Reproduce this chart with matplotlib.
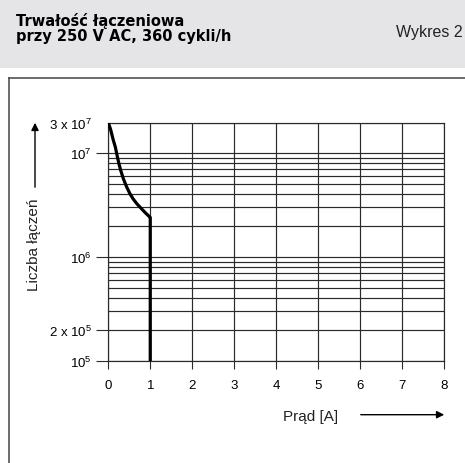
import numpy as np
import matplotlib
matplotlib.use('Agg')
import matplotlib.pyplot as plt
from matplotlib.patches import Rectangle, FancyArrowPatch
from matplotlib.lines import Line2D

# ---- data ----
current_a = [0.0, 0.052, 0.119, 0.167, 0.214, 0.255, 0.296, 0.362, 0.439, 0.519,
             0.596, 0.684, 0.796, 0.888, 0.977, 1.0, 1.0]
cycles = [3e7, 2.41e7, 1.6e7, 1.25e7, 9.3e6, 7.83e6, 6.8e6, 5.62e6, 4.7e6, 4.04e6,
          3.6e6, 3.24e6, 2.9e6, 2.65e6, 2.45e6, 2.4e6, 1e5]
x_ticks = [0, 1, 2, 3, 4, 5, 6, 7, 8]
y_ticks = [1e5, 2e5, 1e6, 1e7, 3e7]
y_tick_labels = [r'$\mathregular{10^5}$', r'2 x $\mathregular{10^5}$',
                 r'$\mathregular{10^6}$', r'$\mathregular{10^7}$',
                 r'3 x $\mathregular{10^7}$']
y_minor = [k * 1e5 for k in range(2, 10)] + [k * 1e6 for k in range(2, 10)]
title_lines = ['Trwałość łączeniowa', 'przy 250 V AC, 360 cykli/h']
chart_no = 'Wykres 2'
x_label = 'Prąd [A]'
y_label = 'Liczba łączeń'

plt.rcParams['font.family'] = ['Liberation Sans', 'DejaVu Sans']
plt.rcParams['mathtext.fontset'] = 'custom'
plt.rcParams['mathtext.rm'] = 'Liberation Sans'
plt.rcParams['mathtext.it'] = 'Liberation Sans:italic'
plt.rcParams['mathtext.bf'] = 'Liberation Sans:bold'

W, H = 465, 464
fig = plt.figure(figsize=(W / 100, H / 100), dpi=100)

def fx(px):
    return px / W

def fy(py):
    return 1 - py / H

# header band and frame
fig.patches.append(Rectangle((0, fy(69)), 1, 1 - fy(69), transform=fig.transFigure,
                             facecolor='#e5e5e7', edgecolor='none', zorder=0))
fig.add_artist(Line2D([fx(8.5), 1.0], [fy(78.5), fy(78.5)], transform=fig.transFigure,
                      color='#444444', lw=1.1))
fig.add_artist(Line2D([fx(8.5), fx(8.5)], [fy(78.5), 0.0], transform=fig.transFigure,
                      color='#444444', lw=1.1))

fig.text(fx(16), fy(26), title_lines[0], family='DejaVu Sans', weight='bold',
         fontsize=10.5, va='baseline', ha='left')
fig.text(fx(16), fy(41), title_lines[1], family='DejaVu Sans', weight='bold',
         fontsize=10.5, va='baseline', ha='left')
fig.text(fx(462.5), fy(37.3), chart_no, fontsize=11.5, va='baseline', ha='right',
         color='#222222')

ax = fig.add_axes([fx(108.3), fy(362), fx(444) - fx(108.3), fy(124) - fy(362)])

c = 0.605

def fwd(y):
    v = np.log10(np.clip(np.asarray(y, dtype=float), 1e-300, None))
    return np.where(v > 7, 7 + (v - 7) * c, v)

def inv(w):
    w = np.asarray(w, dtype=float)
    return 10 ** np.where(w > 7, 7 + (w - 7) / c, w)

ax.set_yscale('function', functions=(fwd, inv))
ax.set_xlim(0, 8)
ax.set_ylim(1e5, 3e7)

gc = '#2a2a2a'
ax.set_xticks(x_ticks)
ax.set_xticklabels([str(t) for t in x_ticks])
ax.set_yticks(y_ticks)
ax.set_yticklabels(y_tick_labels)
ax.set_yticks(y_minor, minor=True)
ax.set_xticks([], minor=True)
ax.tick_params(axis='x', which='major', direction='out', length=6, width=0.8,
               color=gc, labelsize=9.5, pad=7)
ax.tick_params(axis='y', which='major', direction='out', length=9, width=0.8,
               color=gc, labelsize=9.5, pad=3)
ax.tick_params(axis='y', which='minor', length=0)
ax.yaxis.get_major_ticks()[-1].tick1line.set_visible(False)
ax.grid(True, which='both', axis='y', color=gc, lw=0.85)
ax.grid(True, which='major', axis='x', color=gc, lw=0.85)
for s in ax.spines.values():
    s.set_color(gc)
    s.set_linewidth(0.85)

ax.plot(current_a, cycles, color='black', lw=2.3, solid_capstyle='butt',
        solid_joinstyle='round', zorder=5)

# axis labels with arrows
fig.text(fx(34), fy(245), y_label, rotation=90, fontsize=11, ha='center', va='center',
         color='#222222')
fig.add_artist(FancyArrowPatch((fx(35), fy(191)), (fx(35), fy(121)),
                               transform=fig.transFigure, arrowstyle='-|>',
                               mutation_scale=11, lw=1, color='black'))
fig.text(fx(310.5), fy(417), x_label, fontsize=11, ha='center', va='center',
         color='#222222')
fig.add_artist(FancyArrowPatch((fx(358), fy(415.7)), (fx(447), fy(415.7)),
                               transform=fig.transFigure, arrowstyle='-|>',
                               mutation_scale=11, lw=1, color='black'))

fig.savefig('out.png', dpi=100)
